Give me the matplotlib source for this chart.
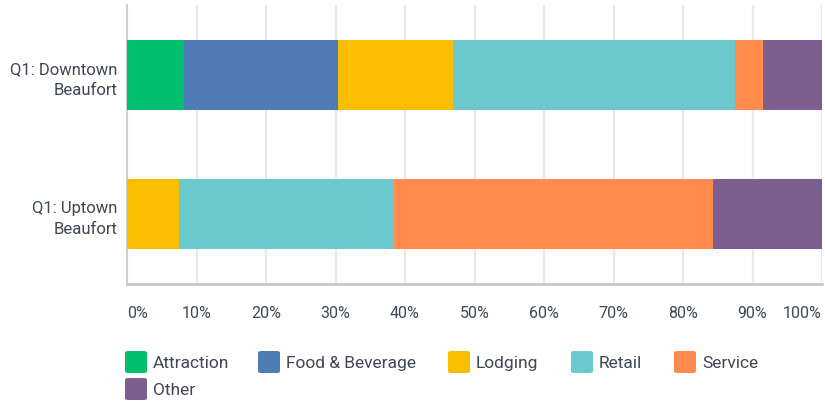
import matplotlib
matplotlib.use("Agg")
import numpy as np
import matplotlib.pyplot as plt
from matplotlib.patches import FancyBboxPatch

plt.rcParams['font.family'] = ['Roboto', 'DejaVu Sans']

# share of businesses by category, in percent
locations = ["Q1: Downtown\nBeaufort", "Q1: Uptown\nBeaufort"]
categories = ["Attraction", "Food & Beverage", "Lodging", "Retail", "Service", "Other"]
colors = ["#00BF6F", "#507CB6", "#F9BE00", "#6BC8CD", "#FF8B4F", "#7D5E90"]
downtown = [8.2, 22.2, 16.5, 40.6, 4.0, 8.5]
uptown = [0.0, 0.0, 7.5, 30.9, 45.9, 15.7]
ticks = np.arange(0, 101, 10)
tick_labels = [f"{t}%" for t in ticks]

text_col = "#3d4752"

fig = plt.figure(figsize=(8.25, 4.06), dpi=100)
ax = fig.add_axes([127 / 825, 1 - 285 / 406, 695 / 825, 279 / 406])

values = np.array([downtown, uptown])
left = np.zeros(len(locations))
y = np.arange(len(locations))
for j, cat in enumerate(categories):
    ax.barh(y, values[:, j], left=left, height=0.504, color=colors[j],
            zorder=3, linewidth=0)
    left += values[:, j]

ax.set_xlim(0, 100)
ax.set_ylim(1.504, -0.504)
ax.set_xticks(ticks)
ax.set_xticklabels(tick_labels)
ax.set_yticks(y)
ax.set_yticklabels(locations, ha='right', linespacing=1.45)
ax.tick_params(axis='x', length=0, pad=15, labelsize=11.5, labelcolor=text_col)
ax.tick_params(axis='y', length=0, pad=7, labelsize=12, labelcolor=text_col)
lbls = ax.get_xticklabels()
lbls[0].set_ha('left')
lbls[-1].set_ha('right')
lbls[0].set_x(0)

ax.grid(axis='x', color='#e9e9e9', linewidth=1.6, zorder=0)
ax.grid(axis='y', visible=False)
for s in ['top', 'right']:
    ax.spines[s].set_visible(False)
ax.spines['left'].set_color('#cfcfcf')
ax.spines['left'].set_linewidth(1.5)
ax.spines['bottom'].set_color('#c8c8c8')
ax.spines['bottom'].set_linewidth(2)

# legend: two rows of rounded swatches, laid out by hand
W, H = 825, 406
legend_pos = [(125, 352), (258, 352), (448, 352), (571, 352), (674, 352), (125, 379)]
for (px, py), cat, c in zip(legend_pos, categories, colors):
    sw = FancyBboxPatch((px / W, 1 - (py + 22) / H), 22 / W, 22 / H,
                        boxstyle="round,pad=0,rounding_size=0.004",
                        transform=fig.transFigure, facecolor=c, edgecolor='none')
    fig.add_artist(sw)
    fig.text((px + 28) / W, 1 - (py + 11.5) / H, cat, fontsize=12.5,
             color=text_col, va='center', ha='left')

fig.savefig("out.png", dpi=100)
